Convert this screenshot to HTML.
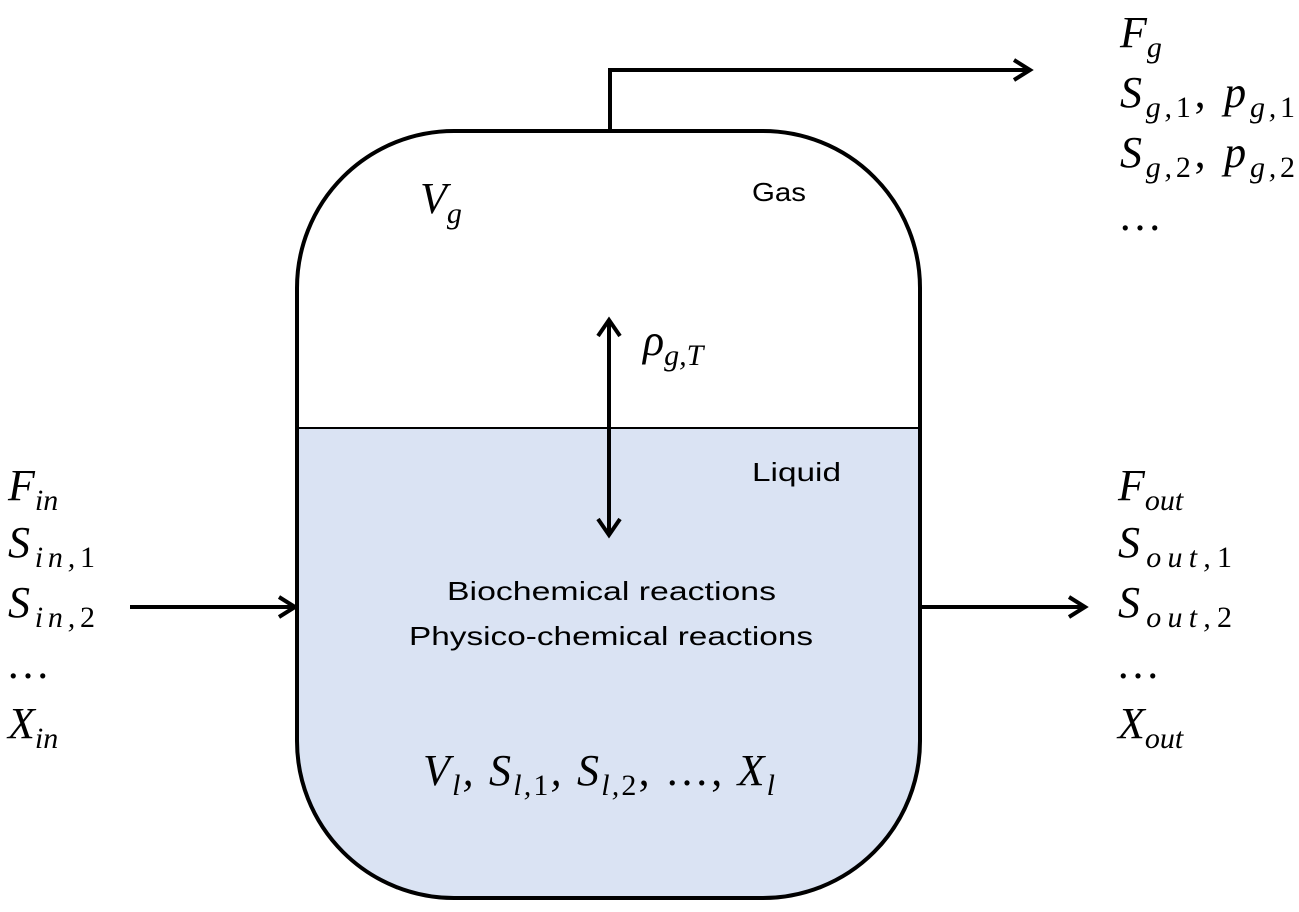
<!DOCTYPE html>
<html><head><meta charset="utf-8"><style>
html,body{margin:0;padding:0;background:#fff}
svg{display:block}
.m{font-family:"Liberation Serif",serif;font-style:italic;font-size:44px;fill:#000}
.s{font-size:30px}
.u{font-style:normal}
.t{font-family:"Liberation Sans",sans-serif;font-size:26px;fill:#000}
</style></head><body>
<svg width="1299" height="912" viewBox="0 0 1299 912" xmlns="http://www.w3.org/2000/svg">
<clipPath id="c"><rect x="297" y="131" width="623" height="767" rx="157" ry="157"/></clipPath>
<rect x="290" y="428" width="640" height="480" fill="#dae3f3" clip-path="url(#c)"/>
<rect x="297" y="131" width="623" height="767" rx="157" ry="157" fill="none" stroke="#000" stroke-width="4"/>
<line x1="297" y1="428" x2="920" y2="428" stroke="#000" stroke-width="2"/>
<polyline points="610,131 610,70 1028,70" fill="none" stroke="#000" stroke-width="4"/>
<polyline points="1014,60 1030,70 1014,80" fill="none" stroke="#000" stroke-width="4"/>
<line x1="609" y1="322" x2="609" y2="533" stroke="#000" stroke-width="4"/>
<polyline points="598,336 609,320 620,336" fill="none" stroke="#000" stroke-width="4"/>
<polyline points="598,519 609,535 620,519" fill="none" stroke="#000" stroke-width="4"/>
<line x1="130" y1="607" x2="293" y2="607" stroke="#000" stroke-width="4"/>
<polyline points="279,597 295,607 279,617" fill="none" stroke="#000" stroke-width="4"/>
<line x1="920" y1="607" x2="1083" y2="607" stroke="#000" stroke-width="4"/>
<polyline points="1069,597 1085,607 1069,617" fill="none" stroke="#000" stroke-width="4"/>

<text class="t" x="752" y="201" textLength="54" lengthAdjust="spacingAndGlyphs">Gas</text>
<text class="t" x="752" y="481" textLength="89" lengthAdjust="spacingAndGlyphs">Liquid</text>
<text class="t" x="447" y="600" textLength="329" lengthAdjust="spacingAndGlyphs">Biochemical reactions</text>
<text class="t" x="409" y="645" textLength="404" lengthAdjust="spacingAndGlyphs">Physico-chemical reactions</text>

<text class="m" x="420" y="213">V<tspan class="s" dy="10">g</tspan></text>
<text class="m" x="643" y="355">ρ<tspan class="s" dy="10">g,T</tspan></text>
<text class="m" x="423" y="785" textLength="352" lengthAdjust="spacing">V<tspan class="s" dy="10">l</tspan><tspan dy="-10">, S</tspan><tspan class="s" dy="10">l,<tspan class="u">1</tspan></tspan><tspan dy="-10">, S</tspan><tspan class="s" dy="10">l,<tspan class="u">2</tspan></tspan><tspan dy="-10" class="u">, …, </tspan><tspan dy="0">X</tspan><tspan class="s" dy="10">l</tspan></text>

<text class="m" x="1120" y="47">F<tspan class="s" dy="10">g</tspan></text>
<text class="m" x="1120" y="107" textLength="175" lengthAdjust="spacing">S<tspan class="s" dy="10">g,<tspan class="u">1</tspan></tspan><tspan dy="-10" class="u">, </tspan><tspan>p</tspan><tspan class="s" dy="10">g,<tspan class="u">1</tspan></tspan></text>
<text class="m" x="1120" y="167" textLength="175" lengthAdjust="spacing">S<tspan class="s" dy="10">g,<tspan class="u">2</tspan></tspan><tspan dy="-10" class="u">, </tspan><tspan>p</tspan><tspan class="s" dy="10">g,<tspan class="u">2</tspan></tspan></text>
<text class="m u" x="1118" y="230">…</text>

<text class="m" x="8" y="500">F<tspan class="s" dy="10">in</tspan></text>
<text class="m" x="8" y="557" textLength="87" lengthAdjust="spacing">S<tspan class="s" dy="10">in,<tspan class="u">1</tspan></tspan></text>
<text class="m" x="8" y="617" textLength="87" lengthAdjust="spacing">S<tspan class="s" dy="10">in,<tspan class="u">2</tspan></tspan></text>
<text class="m u" x="6" y="678">…</text>
<text class="m" x="8" y="738">X<tspan class="s" dy="10">in</tspan></text>

<text class="m" x="1118" y="500">F<tspan class="s" dy="10">out</tspan></text>
<text class="m" x="1118" y="557" textLength="114" lengthAdjust="spacing">S<tspan class="s" dy="10">out,<tspan class="u">1</tspan></tspan></text>
<text class="m" x="1118" y="617" textLength="114" lengthAdjust="spacing">S<tspan class="s" dy="10">out,<tspan class="u">2</tspan></tspan></text>
<text class="m u" x="1116" y="678">…</text>
<text class="m" x="1118" y="738">X<tspan class="s" dy="10">out</tspan></text>
</svg>
</body></html>
